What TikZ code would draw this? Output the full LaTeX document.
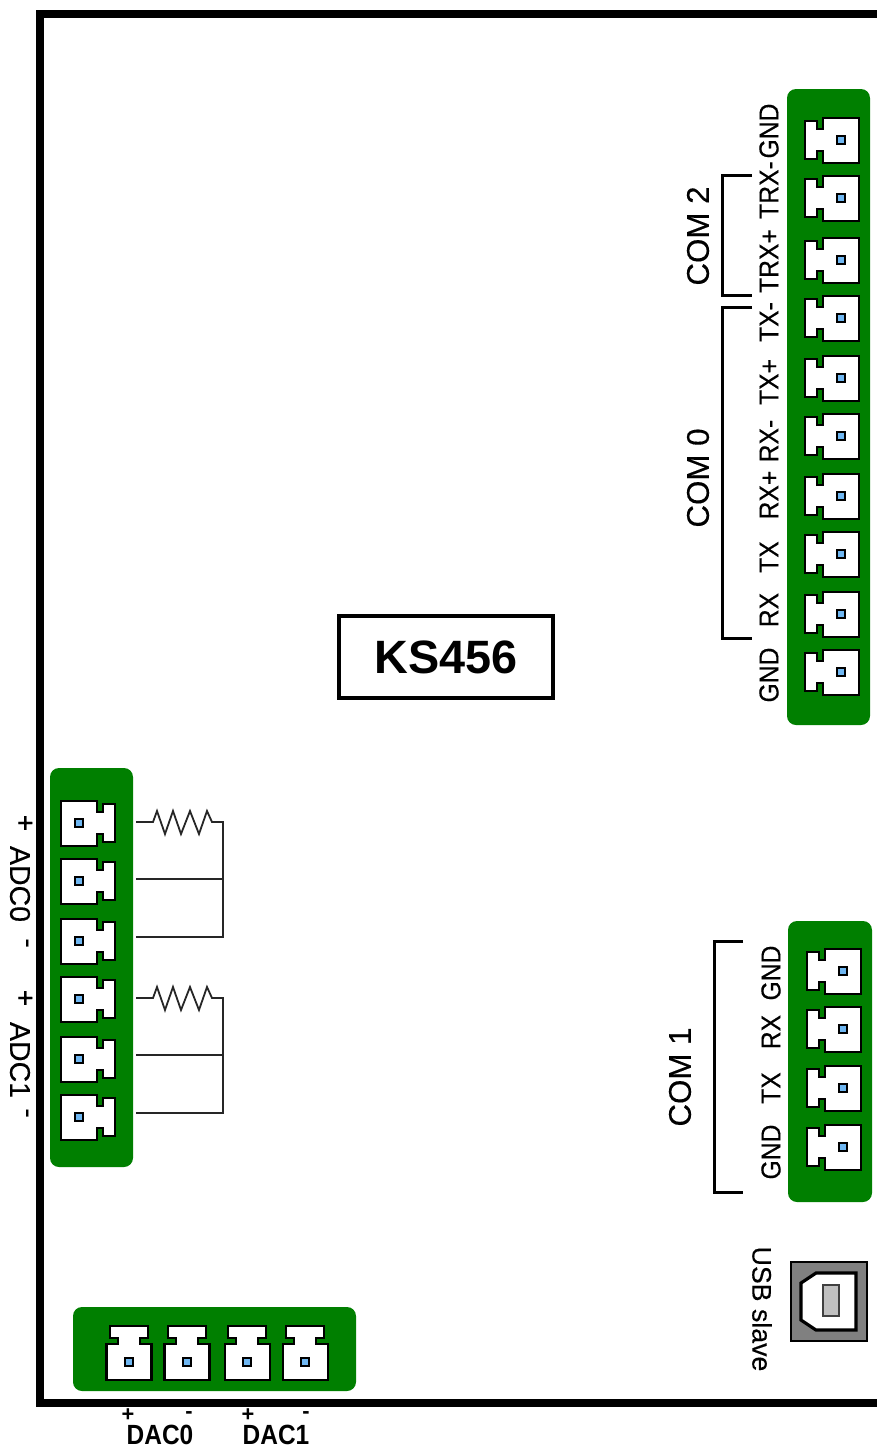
\documentclass[tikz,border=0pt]{standalone}
\usepackage{fontspec}
\usepackage{graphicx}
\setmainfont{Liberation Sans}
\newfontfamily\pinface[FakeStretch=0.9,FakeBold=0.35]{Liberation Sans}
\newfontfamily\comface[FakeBold=0.3]{Liberation Sans}
\definecolor{boardgreen}{HTML}{007F00}
\definecolor{pinblue}{HTML}{6FB7F2}
\definecolor{usbgrey}{HTML}{808080}
\definecolor{slotgrey}{HTML}{C0C0C0}
\tikzset{
  px/.style={line width=#1*0.2845pt},
  panel/.style={fill=boardgreen,draw=none,rounded corners=0.09cm},
  bracket/.style={px=3,draw=black,line join=miter},
  wire/.style={px=1.8,draw=black!85,line join=miter},
  pinlabel/.style={inner sep=0pt,rotate=90,font=\fontsize{7.8pt}{9pt}\pinface,text=black},
  comlabel/.style={inner sep=0pt,rotate=90,font=\fontsize{8.9pt}{11pt}\comface,text=black},
  sidelabel/.style={inner sep=0pt,rotate=-90,font=\fontsize{8.1pt}{9pt}\comface,text=black},
  daclabel/.style={inner sep=0pt,font=\fontsize{7.9pt}{10pt}\bfseries\selectfont,text=black},
  signlabel/.style={inner sep=0pt,font=\fontsize{6.2pt}{7pt}\bfseries\selectfont,text=black},
  conn/.pic={
    \draw[px=2,fill=white,line join=miter]
      (-36,-19) -- (-24,-19) -- (-24,-11) -- (-18,-11) -- (-18,-22.5) -- (18,-22.5)
      -- (18,22.5) -- (-18,22.5) -- (-18,11) -- (-24,11) -- (-24,19) -- (-36,19) -- cycle;
    \draw[px=2,fill=pinblue] (-4,-4) rectangle (4,4);
  }
}
\begin{document}
\begin{tikzpicture}[x=0.01cm,y=-0.01cm]
\useasboundingbox (0,0) rectangle (877,1447);
% frame
\coordinate (frameTR) at (877,14);
\coordinate (frameTL) at (40,14);
\coordinate (frameBL) at (40,1403);
\coordinate (frameBR) at (877,1403);
\draw[px=7.5,line join=miter] (frameTR) -- (frameTL) -- (frameBL) -- (frameBR);
% title box
\node[draw,px=4,minimum width=2.13cm,minimum height=0.82cm,inner sep=0pt,
      font=\fontsize{13.3pt}{16pt}\bfseries\selectfont] (title) at (446,657) {\raisebox{-0.6pt}{KS456}};
% panels
\fill[panel] (787,89) rectangle (870,725);
\fill[panel] (788,921) rectangle (872,1202);
\fill[panel] (50,768) rectangle (133,1167);
\fill[panel] (73,1307) rectangle (356,1391);
% connectors
\foreach \y in {140,198,260,318,378,436,496,554,614,672}
  \pic at (841,\y) {conn};
\foreach \y in {971,1029,1088,1147}
  \pic at (843,\y) {conn};
\foreach \y in {823,881,941,999,1059,1117}
  \pic[xscale=-1] at (79,\y) {conn};
\foreach \x in {129,187,247,305}
  \pic[rotate=-90] at (\x,1362) {conn};
% brackets
\draw[bracket] (752,175) -- (722,175) -- (722,295) -- (752,295);
\draw[bracket] (752,307) -- (722,307) -- (722,638) -- (752,638);
\draw[bracket] (743,941) -- (714,941) -- (714,1192) -- (743,1192);
% com labels
\node[comlabel] (com2) at (698,236) {COM 2};
\node[comlabel] (com0) at (698,478) {COM 0};
\node[comlabel] (com1) at (680,1077) {COM 1};
% pin labels top
\node[pinlabel] (l1) at (769,131) {GND};
\node[pinlabel] (l2) at (769,190) {TRX-};
\node[pinlabel] (l3) at (769,261) {TRX+};
\node[pinlabel] (l4) at (769,322) {TX-};
\node[pinlabel] (l5) at (769,382) {TX+};
\node[pinlabel] (l6) at (769,441) {RX-};
\node[pinlabel] (l7) at (769,495) {RX+};
\node[pinlabel] (l8) at (769,557) {TX};
\node[pinlabel] (l9) at (769,610) {RX};
\node[pinlabel] (l10) at (769,675) {GND};
% pin labels com1
\node[pinlabel] (m1) at (771,973) {GND};
\node[pinlabel] (m2) at (771,1032) {RX};
\node[pinlabel] (m3) at (771,1088) {TX};
\node[pinlabel] (m4) at (771,1152) {GND};
% adc labels
\node[sidelabel] (a1) at (24,823) {+};
\node[sidelabel] (a2) at (20,884) {ADC0};
\node[sidelabel] (a3) at (24,943) {-};
\node[sidelabel] (a4) at (24,998) {+};
\node[sidelabel] (a5) at (20,1060) {ADC1};
\node[sidelabel] (a6) at (24,1113) {-};
% resistors and wires
\foreach \o in {0,176}{
  \draw[wire] (136,822+\o) -- (153,822+\o) -- (157,811+\o) -- (165,834+\o) -- (173,811+\o) -- (181,834+\o)
     -- (190,811+\o) -- (199,834+\o) -- (207,811+\o) -- (212,822+\o) -- (223,822+\o) -- (223,937+\o) -- (136,937+\o);
  \draw[wire] (136,879+\o) -- (223,879+\o);
}
% DAC labels
\node[signlabel] (d1) at (128,1415) {+};
\node[signlabel] (d2) at (189,1415) {-};
\node[signlabel] (d3) at (248,1415) {+};
\node[signlabel] (d4) at (306,1415) {-};
\node[daclabel] (d5) at (160,1434.5) {\scalebox{.88}[1]{DAC0}};
\node[daclabel] (d6) at (276,1434.5) {\scalebox{.88}[1]{DAC1}};
% USB
\draw[px=2.8,fill=usbgrey] (791,1262) rectangle (867,1341);
\draw[px=3.2,fill=white,line join=miter] (801,1283) -- (816,1273) -- (856,1273) -- (856,1330) -- (816,1330) -- (801,1320) -- cycle;
\draw[px=1.5,draw=black!75,fill=slotgrey] (823,1285) rectangle (839,1316);
\node[sidelabel,font=\fontsize{7.6pt}{9pt}\comface] (usb) at (762,1309) {USB slave};
\end{tikzpicture}
\end{document}
